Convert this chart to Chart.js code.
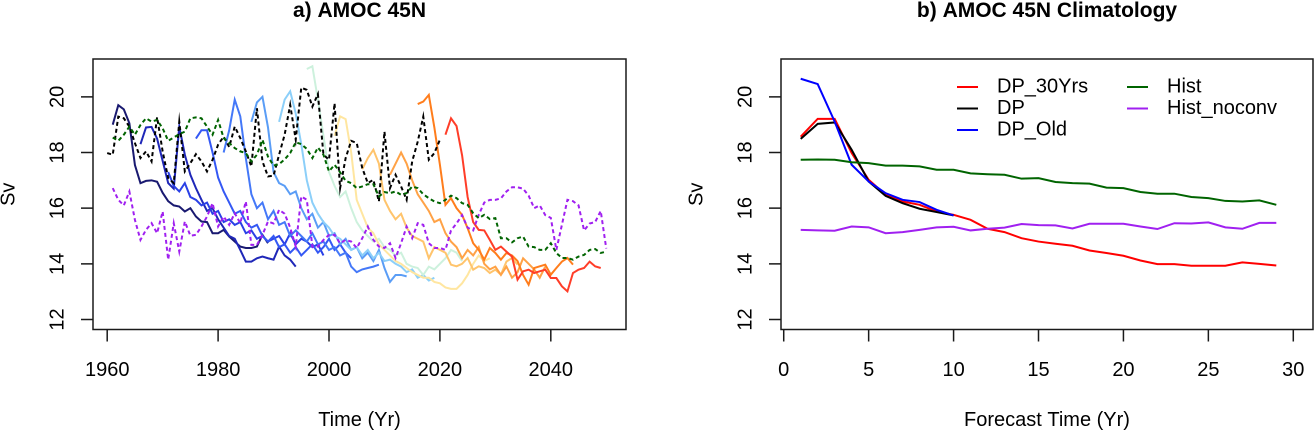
<!DOCTYPE html>
<html>
<head>
<meta charset="utf-8">
<title>AMOC 45N</title>
<script src="https://cdn.jsdelivr.net/npm/chart.js@4.4.1/dist/chart.umd.min.js"></script>
<style>
  html, body { margin: 0; padding: 0; background: #fff; }
  #wrap { position: relative; width: 1315px; height: 432px; overflow: hidden; }
  canvas { position: absolute; top: 0; }
</style>
</head>
<body>
<div id="wrap">
  <canvas id="amocChart" width="657" height="432" style="left:0;width:657px;height:432px"></canvas>
  <canvas id="climChart" width="658" height="432" style="left:657px;width:658px;height:432px"></canvas>
</div>
<script>
// ---- panel a: hindcasts started every 5 years (29 years each) ----
const runStarts = [1961, 1966, 1971, 1976, 1981, 1986, 1991, 1996, 2001, 2006, 2011, 2016, 2021];

const run1961 = [19.0, 19.7, 19.55, 19.05, 17.55, 16.9, 16.98, 17.0, 16.95, 16.55, 16.25, 16.1, 16.06, 15.88, 16.0, 15.7, 15.52, 15.5, 15.1, 15.1, 15.22, 14.98, 14.8, 14.62, 14.57, 14.57, 14.62, 15.04, 14.74];
const run1966 = [18.3, 18.9, 18.92, 18.5, 17.7, 16.9, 16.7, 18.93, 17.92, 17.2, 16.72, 16.3, 15.9, 16.0, 15.6, 15.3, 15.0, 14.9, 14.5, 14.08, 14.08, 14.2, 14.26, 14.2, 14.15, 14.62, 14.3, 14.15, 13.9];
const run1971 = [17.3, 16.8, 16.6, 16.9, 16.4, 16.3, 16.1, 16.2, 15.8, 15.9, 15.5, 15.6, 15.4, 15.5, 15.1, 15.2, 14.9, 15.0, 14.8, 14.9, 15.0, 14.7, 15.1, 14.7, 14.9, 14.8, 14.6, 14.7, 14.3];
const run1976 = [18.5, 18.8, 18.8, 18.0, 17.1, 16.6, 16.2, 15.8, 15.9, 15.5, 15.3, 15.4, 15.0, 14.8, 15.0, 14.6, 14.7, 14.4, 14.6, 14.3, 14.5, 14.7, 14.4, 14.6, 14.9, 14.5, 14.7, 14.4, 14.2];
const run1981 = [18.0, 18.8, 19.9, 19.3, 17.8, 16.5, 16.0, 16.2, 15.6, 15.9, 15.4, 15.5, 15.0, 15.2, 15.0, 14.8, 15.1, 14.7, 14.8, 14.5, 14.6, 14.3, 14.4, 13.9, 13.7, 13.8, 13.85, 13.9, 13.97];
const run1986 = [19.1, 19.8, 20.0, 18.9, 17.3, 16.9, 16.8, 16.5, 16.6, 16.0, 15.6, 15.8, 15.3, 15.5, 15.0, 15.1, 14.7, 14.9, 14.5, 14.6, 14.2, 14.4, 14.1, 14.5, 13.85, 13.35, 13.6, 13.6, 13.55];
const run1991 = [19.1, 19.9, 20.2, 19.4, 18.3, 17.0, 16.2, 15.8, 15.5, 15.3, 15.0, 14.9, 14.7, 14.5, 14.6, 14.3, 14.5, 14.2, 14.4, 14.1, 14.15, 14.0, 13.9, 13.7, 13.8, 13.5, 13.6, 13.4, 13.5];
const run1996 = [21.0, 21.1, 19.9, 18.6, 17.3, 16.8, 16.4, 16.6, 16.0, 15.5, 15.2, 15.0, 14.8, 14.9, 14.6, 14.5, 14.3, 14.4, 14.0, 13.9, 13.85, 13.6, 13.9, 13.8, 14.0, 14.2, 14.5, 14.4, 14.1];
const run2001 = [18.6, 19.3, 19.2, 18.0, 16.3, 15.8, 15.3, 15.1, 14.7, 14.5, 14.3, 14.1, 14.0, 13.85, 13.7, 13.6, 13.5, 13.5, 13.35, 13.3, 13.15, 13.1, 13.1, 13.3, 13.6, 14.0, 14.3, 14.1, 14.2];
const run2006 = [17.4, 17.8, 18.1, 17.6, 16.3, 15.9, 15.6, 15.8, 15.3, 15.0, 14.9, 14.8, 14.2, 14.6, 14.5, 14.4, 13.97, 13.91, 14.0, 14.21, 13.79, 13.91, 13.85, 13.67, 13.79, 13.61, 14.08, 14.21, 13.97];
const run2011 = [17.2, 17.6, 18.0, 17.6, 17.0, 16.5, 16.2, 15.9, 15.5, 15.6, 15.1, 14.8, 14.6, 14.2, 14.5, 14.3, 14.6, 14.0, 13.8, 13.9, 13.6, 13.9, 13.5, 13.7, 14.2, 14.0, 13.8, 13.5, 13.9];
const run2016 = [19.74, 19.83, 20.07, 18.9, 17.56, 16.12, 16.36, 16.0, 15.76, 15.28, 14.74, 14.5, 14.15, 14.57, 14.39, 14.15, 14.39, 14.3, 14.1, 13.6, 13.25, 13.85, 13.91, 13.97, 13.61, 13.85, 14.08, 14.21, 13.97];
const run2021 = [18.64, 19.23, 18.95, 17.9, 16.4, 15.5, 15.22, 15.2, 14.86, 14.5, 14.62, 14.44, 14.26, 13.43, 13.73, 13.79, 13.67, 13.73, 13.79, 13.49, 13.49, 13.19, 13.01, 13.67, 13.79, 13.85, 14.08, 13.91, 13.85];

const runColors = ["#191970", "#1f27b8", "#2a40e6", "#3458f4", "#4478f8", "#5a9df6", "#8ccff9", "#cdf1dd", "#ffe6a0", "#ffc46c", "#ffa246", "#ff7d1c", "#ff3d28"];

// black dashed reference, 1960-2020
const obsStart = 1960;
const obsSeries = [17.98, 17.92, 19.29, 19.23, 18.93, 18.34, 17.80, 18.04, 17.68, 19.27,
  18.04, 17.08, 16.90, 19.11, 17.32, 17.62, 17.94, 17.68, 17.32, 17.74,
  18.28, 18.57, 18.2, 18.93, 18.52, 18.04, 17.50, 19.59, 17.68, 17.14,
  17.17, 17.92, 18.64, 19.71, 18.46, 20.33, 20.25, 19.65, 20.10, 17.92,
  17.74, 19.77, 16.72, 17.80, 18.42, 18.34, 17.44, 16.90, 17.02, 16.24,
  18.75, 16.72, 17.20, 16.78, 16.30, 17.68, 18.39, 19.29, 17.74, 17.98,
  18.46];

// historical runs, 1961-2050
const histStart = 1961;
const histSeries = [18.54, 18.42, 18.64, 18.93, 18.64, 18.99, 19.23, 19.11, 19.17, 18.87,
  18.42, 18.54, 18.66, 18.75, 19.23, 19.26, 19.23, 18.93, 18.64, 19.17,
  18.52, 18.34, 18.16, 18.04, 17.98, 17.68, 17.92, 18.46, 17.85, 17.53,
  17.58, 17.75, 17.98, 18.37, 18.30, 18.13, 17.80, 18.18, 17.92, 17.32,
  17.56, 17.29, 16.98, 16.90, 16.72, 16.78, 16.86, 16.86, 16.42, 16.58,
  16.54, 16.60, 16.48, 16.54, 16.78, 16.72, 16.50, 16.36, 16.24, 16.18,
  16.30, 16.45, 16.36, 16.18, 16.12, 15.82, 15.64, 15.76, 15.61, 15.64,
  14.92, 14.92, 14.77, 14.92, 14.98, 14.62, 14.60, 14.50, 14.50, 14.74,
  14.39, 14.21, 14.21, 14.15, 14.26, 14.32, 14.50, 14.53, 14.39, 14.44];
const histNoconvSeries = [16.72, 16.30, 16.10, 16.60, 15.58, 14.86, 15.22, 15.46, 15.10, 15.88,
  14.15, 15.46, 14.44, 15.52, 15.01, 15.04, 15.34, 15.70, 16.18, 15.34,
  15.70, 15.40, 15.82, 15.46, 16.24, 14.68, 14.68, 15.04, 15.52, 15.45,
  15.94, 15.80, 15.30, 14.62, 16.42, 16.30, 14.62, 14.62, 14.86, 15.04,
  15.04, 14.74, 14.86, 14.80, 14.57, 14.92, 15.34, 14.86, 14.62, 14.57,
  14.74, 14.21, 14.74, 15.34, 14.92, 15.46, 15.40, 14.74, 14.57, 14.57,
  14.50, 15.20, 15.45, 15.75, 15.30, 15.20, 15.76, 16.20, 16.30, 16.30,
  16.35, 16.60, 16.75, 16.75, 16.70, 16.45, 16.00, 16.10, 15.75, 15.65,
  14.50, 15.40, 16.30, 16.25, 16.10, 15.20, 15.45, 15.50, 15.90, 14.55];

// ---- panel b: climatology by forecast year ----
const leadYears = [1, 2, 3, 4, 5, 6, 7, 8, 9, 10, 11, 12, 13, 14, 15, 16, 17, 18, 19, 20, 21, 22, 23, 24, 25, 26, 27, 28, 29];
const dp30Clim = [18.57, 19.21, 19.21, 17.98, 17.02, 16.48, 16.24, 16.12, 15.88, 15.76, 15.58, 15.26, 15.14, 14.92, 14.80, 14.72, 14.65, 14.48, 14.39, 14.29, 14.12, 13.99, 13.99, 13.93, 13.93, 13.93, 14.05, 14.00, 13.94];
const dpClim = [18.49, 19.03, 19.08, 18.10, 16.96, 16.44, 16.18, 15.98, 15.86, 15.74];
const dpOldClim = [20.65, 20.46, 19.11, 17.56, 16.96, 16.54, 16.30, 16.22, 15.94, 15.74];
const histClim = [17.74, 17.75, 17.74, 17.65, 17.62, 17.53, 17.53, 17.50, 17.38, 17.38, 17.25, 17.22, 17.20, 17.06, 17.08, 16.94, 16.90, 16.88, 16.74, 16.72, 16.58, 16.52, 16.52, 16.40, 16.36, 16.26, 16.24, 16.28, 16.12];
const histNoconvClim = [15.22, 15.20, 15.19, 15.34, 15.31, 15.10, 15.14, 15.22, 15.31, 15.33, 15.20, 15.26, 15.30, 15.43, 15.39, 15.38, 15.27, 15.44, 15.44, 15.44, 15.34, 15.25, 15.46, 15.45, 15.49, 15.31, 15.26, 15.47, 15.47];

const yTickValues = [12, 14, 16, 18, 20];
const yearTicks = [1960, 1980, 2000, 2020, 2040];
const leadTicks = [0, 5, 10, 15, 20, 25, 30];

const FONT = '"Liberation Sans", Arial, Helvetica, sans-serif';

function byYear(start, values) {
  return values.map((v, i) => ({ x: start + i, y: v }));
}
function byLead(values) {
  return values.map((v, i) => ({ x: leadYears[i], y: v }));
}

// R-style box, ticks, labels, titles and legend
const rAxes = {
  id: "rAxes",
  afterDraw(chart, args, opts) {
    const { ctx, chartArea: a } = chart;
    const xs = chart.scales.x, ys = chart.scales.y;
    ctx.save();
    ctx.strokeStyle = "#1a1a1a";
    ctx.lineWidth = 1.5;
    ctx.strokeRect(a.left, a.top, a.right - a.left, a.bottom - a.top);

    ctx.beginPath();
    opts.xTicks.forEach((v) => {
      const px = xs.getPixelForValue(v);
      ctx.moveTo(px, a.bottom);
      ctx.lineTo(px, a.bottom + 12);
    });
    yTickValues.forEach((v) => {
      const py = ys.getPixelForValue(v);
      ctx.moveTo(a.left, py);
      ctx.lineTo(a.left - 12, py);
    });
    ctx.stroke();

    ctx.fillStyle = "#000";
    ctx.font = `20px ${FONT}`;
    ctx.textAlign = "center";
    ctx.textBaseline = "middle";
    opts.xTicks.forEach((v) => ctx.fillText(String(v), xs.getPixelForValue(v), a.bottom + 41));
    yTickValues.forEach((v) => {
      ctx.save();
      ctx.translate(a.left - 35, ys.getPixelForValue(v));
      ctx.rotate(-Math.PI / 2);
      ctx.fillText(String(v), 0, 0);
      ctx.restore();
    });

    const cx = (a.left + a.right) / 2;
    ctx.fillText(opts.xLabel, cx, a.bottom + 91);
    ctx.save();
    ctx.translate(a.left - 84, (a.top + a.bottom) / 2);
    ctx.rotate(-Math.PI / 2);
    ctx.fillText("Sv", 0, 0);
    ctx.restore();

    ctx.font = `bold 21px ${FONT}`;
    ctx.fillText(opts.title, cx, 11);

    if (opts.legend) {
      ctx.font = `20px ${FONT}`;
      ctx.textAlign = "left";
      ctx.lineWidth = 2;
      opts.legend.forEach((it) => {
        ctx.strokeStyle = it.color;
        ctx.beginPath();
        ctx.moveTo(it.x, it.y);
        ctx.lineTo(it.x + 21, it.y);
        ctx.stroke();
        ctx.fillText(it.label, it.x + 40, it.y);
      });
    }
    ctx.restore();
  }
};

function lineSet(label, data, color, dashed) {
  return {
    label,
    data,
    borderColor: color,
    backgroundColor: color,
    borderWidth: 2,
    borderDash: dashed ? [4, 3] : [],
    pointRadius: 0,
    tension: 0,
    fill: false
  };
}

function drawAmoc() {
  const datasets = [
    lineSet("Hist", byYear(histStart, histSeries), "#006400", true),
    lineSet("Obs", byYear(obsStart, obsSeries), "#000000", true),
    lineSet("Hist_noconv", byYear(histStart, histNoconvSeries), "#a020f0", true)
  ];
  const runs = [run1961, run1966, run1971, run1976, run1981, run1986, run1991, run1996, run2001, run2006, run2011, run2016, run2021];
  // later starts drawn on top
  for (let i = runs.length - 1; i >= 0; i--) {
    datasets.push(lineSet("DP " + runStarts[i], byYear(runStarts[i], runs[i]), runColors[i], false));
  }

  new Chart(document.getElementById("amocChart"), {
    type: "line",
    data: { datasets },
    options: {
      responsive: false,
      animation: false,
      devicePixelRatio: 2,
      layout: { padding: { left: 93, right: 31, top: 59, bottom: 102.5 } },
      scales: {
        x: { type: "linear", min: 1957.44, max: 2053.56, display: false },
        y: { type: "linear", min: 11.64, max: 21.36, display: false }
      },
      plugins: {
        legend: { display: false },
        tooltip: { enabled: false },
        rAxes: { title: "a) AMOC 45N", xLabel: "Time (Yr)", xTicks: yearTicks }
      }
    },
    plugins: [rAxes]
  });
}

function drawClimatology() {
  const datasets = [
    lineSet("Hist_noconv", byLead(histNoconvClim), "#a020f0", false),
    lineSet("Hist", byLead(histClim), "#006400", false),
    lineSet("DP_Old", byLead(dpOldClim), "#0000ff", false),
    lineSet("DP", byLead(dpClim), "#000000", false),
    lineSet("DP_30Yrs", byLead(dp30Clim), "#ff0000", false)
  ];

  new Chart(document.getElementById("climChart"), {
    type: "line",
    data: { datasets },
    options: {
      responsive: false,
      animation: false,
      devicePixelRatio: 2,
      layout: { padding: { left: 124, right: 2, top: 59, bottom: 102.5 } },
      scales: {
        x: { type: "linear", min: -0.16, max: 31.16, display: false },
        y: { type: "linear", min: 11.64, max: 21.36, display: false }
      },
      plugins: {
        legend: { display: false },
        tooltip: { enabled: false },
        rAxes: {
          title: "b) AMOC 45N Climatology",
          xLabel: "Forecast Time (Yr)",
          xTicks: leadTicks,
          legend: [
            { label: "DP_30Yrs", color: "#ff0000", x: 300, y: 87 },
            { label: "DP", color: "#000000", x: 300, y: 108.5 },
            { label: "DP_Old", color: "#0000ff", x: 300, y: 130 },
            { label: "Hist", color: "#006400", x: 470, y: 87 },
            { label: "Hist_noconv", color: "#a020f0", x: 470, y: 108.5 }
          ]
        }
      }
    },
    plugins: [rAxes]
  });
}

document.addEventListener("DOMContentLoaded", () => {
  drawAmoc();
  drawClimatology();
});
</script>
</body>
</html>
